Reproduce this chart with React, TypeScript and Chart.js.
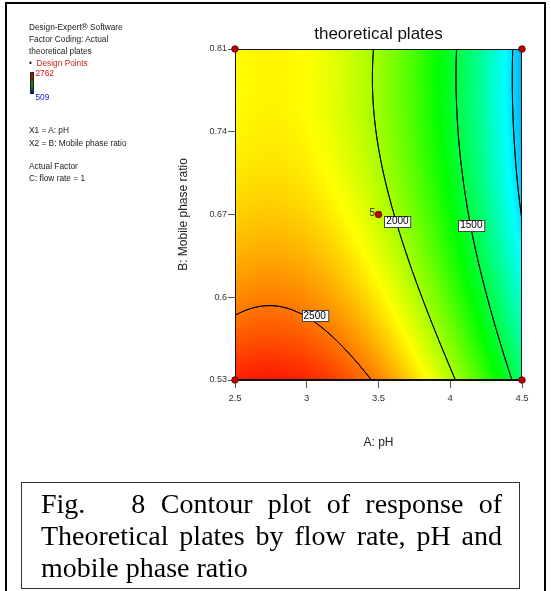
import React, { useEffect, useRef } from 'react';
import { Chart, registerables } from 'chart.js';

Chart.register(...registerables);

// ---- data ----
const phGrid = [2.5, 3, 3.5, 4, 4.5];
const ratioGrid = [0.53, 0.6, 0.67, 0.74, 0.81];
const xTicks = [2.5, 3, 3.5, 4, 4.5];
const yTicks = [0.53, 0.6, 0.67, 0.74, 0.81];
// theoretical plates at each pH grid node, one row per mobile phase ratio
const platesRatio053 = [2690, 2685, 2469, 2039, 1398];
const platesRatio060 = [2455, 2451, 2234, 1805, 1160];
const platesRatio067 = [2296, 2291, 2075, 1645, 992];
const platesRatio074 = [2210, 2206, 1989, 1560, 914];
const platesRatio081 = [2199, 2194, 1978, 1548, 905];
const contourLevels = [1000, 1500, 2000, 2500];
const labelLevels = [2500, 2000, 1500];
const labelPH = [3.055, 3.632, 4.147];
const labelRatio = [0.5843, 0.6645, 0.661];
const designPH = [2.5, 2.5, 4.5, 4.5, 3.5];
const designRatio = [0.53, 0.81, 0.81, 0.53, 0.67];
const designReplicates = ['', '', '', '', '5'];
const responseLow = 509;
const responseHigh = 2762;
const rampColors = [
  [0, 0, 255],
  [0, 255, 255],
  [0, 255, 0],
  [255, 255, 0],
  [255, 0, 0],
];

const platesRows = [platesRatio053, platesRatio060, platesRatio067, platesRatio074, platesRatio081];

function catmull(vals: number[], t: number): number {
  const n = vals.length;
  const get = (k: number) => {
    if (k < 0) return 3 * vals[0] - 3 * vals[1] + vals[2];
    if (k > n - 1) return 3 * vals[n - 1] - 3 * vals[n - 2] + vals[n - 3];
    return vals[k];
  };
  let i = Math.floor(t);
  if (i > n - 2) i = n - 2;
  if (i < 0) i = 0;
  const u = t - i;
  const p0 = get(i - 1), p1 = get(i), p2 = get(i + 1), p3 = get(i + 2);
  return 0.5 * (2 * p1 + (-p0 + p2) * u + (2 * p0 - 5 * p1 + 4 * p2 - p3) * u * u + (-p0 + 3 * p1 - 3 * p2 + p3) * u * u * u);
}

function colorFor(v: number, out: number[]) {
  let t = (v - responseLow) / (responseHigh - responseLow);
  t = Math.max(0, Math.min(1, t));
  const s = t * (rampColors.length - 1);
  const k = Math.min(Math.floor(s), rampColors.length - 2);
  const f = s - k;
  for (let c = 0; c < 3; c++) out[c] = Math.round(rampColors[k][c] * (1 - f) + rampColors[k + 1][c] * f);
}

const surfacePlugin = {
  id: 'surface',
  beforeDatasetsDraw(chart: any) {
    const { ctx, chartArea, scales } = chart;
    const xs = scales.x, ys = scales.y;
    const L = Math.round(chartArea.left), T = Math.round(chartArea.top);
    const W = Math.round(chartArea.right) - L, H = Math.round(chartArea.bottom) - T;
    const field = new Float32Array(W * H);
    const img = ctx.createImageData(W, H);
    const col = [0, 0, 0];
    const dx = phGrid[1] - phGrid[0], dy = ratioGrid[1] - ratioGrid[0];
    for (let i = 0; i < W; i++) {
      const xv = xs.getValueForPixel(L + i + 0.5);
      const tx = (xv - phGrid[0]) / dx;
      const colVals = platesRows.map((r) => catmull(r, tx));
      for (let j = 0; j < H; j++) {
        const yv = ys.getValueForPixel(T + j + 0.5);
        const ty = (yv - ratioGrid[0]) / dy;
        const v = catmull(colVals, ty);
        field[j * W + i] = v;
        colorFor(v, col);
        const k = (j * W + i) * 4;
        img.data[k] = col[0];
        img.data[k + 1] = col[1];
        img.data[k + 2] = col[2];
        img.data[k + 3] = 255;
      }
    }
    ctx.putImageData(img, L, T);

    ctx.save();
    ctx.beginPath();
    ctx.rect(L, T, W, H);
    ctx.clip();
    ctx.strokeStyle = '#000';
    ctx.lineWidth = 1;
    ctx.lineCap = 'round';
    for (const level of contourLevels) {
      ctx.beginPath();
      for (let j = 0; j < H - 1; j++) {
        for (let i = 0; i < W - 1; i++) {
          const a = field[j * W + i], b = field[j * W + i + 1];
          const c = field[(j + 1) * W + i + 1], d = field[(j + 1) * W + i];
          const pts: number[][] = [];
          if ((a - level) * (b - level) < 0) pts.push([i + (level - a) / (b - a), j]);
          if ((b - level) * (c - level) < 0) pts.push([i + 1, j + (level - b) / (c - b)]);
          if ((d - level) * (c - level) < 0) pts.push([i + (level - d) / (c - d), j + 1]);
          if ((a - level) * (d - level) < 0) pts.push([i, j + (level - a) / (d - a)]);
          for (let p = 0; p + 1 < pts.length; p += 2) {
            ctx.moveTo(L + 0.5 + pts[p][0], T + 0.5 + pts[p][1]);
            ctx.lineTo(L + 0.5 + pts[p + 1][0], T + 0.5 + pts[p + 1][1]);
          }
        }
      }
      ctx.stroke();
    }
    ctx.restore();

    // plot frame
    ctx.save();
    ctx.strokeStyle = '#111';
    ctx.lineWidth = 1;
    ctx.strokeRect(L + 0.5, T + 0.5, W - 1, H - 1);
    ctx.restore();

    // contour labels
    ctx.save();
    ctx.font = '10px "Liberation Sans", Arial, sans-serif';
    ctx.textAlign = 'center';
    ctx.textBaseline = 'middle';
    labelLevels.forEach((lv, k) => {
      const px = xs.getPixelForValue(labelPH[k]);
      const py = ys.getPixelForValue(labelRatio[k]);
      const text = String(lv);
      const w = ctx.measureText(text).width + 4;
      const h = 11;
      const x0 = Math.round(px - w / 2) + 0.5, y0 = Math.round(py - h / 2) + 0.5;
      ctx.fillStyle = '#fff';
      ctx.fillRect(x0, y0, w, h);
      ctx.strokeStyle = '#444';
      ctx.strokeRect(x0, y0, w, h);
      ctx.fillStyle = '#000';
      ctx.fillText(text, px, py + 0.5);
    });
    ctx.restore();
  },
  afterDatasetsDraw(chart: any) {
    const { ctx, scales } = chart;
    ctx.save();
    ctx.font = '10px "Liberation Sans", Arial, sans-serif';
    ctx.textAlign = 'right';
    ctx.textBaseline = 'middle';
    ctx.fillStyle = '#222';
    designReplicates.forEach((r, k) => {
      if (!r) return;
      const px = scales.x.getPixelForValue(designPH[k]);
      const py = scales.y.getPixelForValue(designRatio[k]);
      ctx.fillText(r, px - 3.5, py - 1);
    });
    ctx.restore();
  },
};

const sans = '"Liberation Sans", Arial, sans-serif';

function Note({ top, left, text, color }: { top: number; left: number; text: string; color?: string }) {
  return (
    <div
      style={{
        position: 'absolute',
        top,
        left,
        fontFamily: sans,
        fontSize: 8.3,
        lineHeight: '12px',
        color: color || '#1a1a1a',
        whiteSpace: 'nowrap',
      }}
    >
      {text}
    </div>
  );
}

export default function App() {
  const ref = useRef<HTMLCanvasElement>(null);

  useEffect(() => {
    const chart = new Chart(ref.current as HTMLCanvasElement, {
      type: 'scatter',
      data: {
        datasets: [
          {
            label: 'Design Points',
            data: designPH.map((x, i) => ({ x, y: designRatio[i] })),
            pointRadius: 3.3,
            pointBackgroundColor: '#c00000',
            pointBorderColor: '#500000',
            pointBorderWidth: 0.8,
            clip: false as any,
          },
        ],
      },
      plugins: [surfacePlugin],
      options: {
        responsive: false,
        animation: false,
        events: [],
        layout: { padding: { left: 170, right: 29, top: 0, bottom: 141 } },
        plugins: {
          legend: { display: false },
          tooltip: { enabled: false },
          title: {
            display: true,
            text: 'theoretical plates',
            fullSize: false,
            color: '#111',
            font: { family: sans, size: 17, weight: 'normal' },
            padding: { top: 23.8, bottom: 4.8 },
          },
        },
        scales: {
          x: {
            type: 'linear',
            min: 2.5,
            max: 4.5,
            afterBuildTicks: (s: any) => {
              s.ticks = xTicks.map((v) => ({ value: v }));
            },
            afterFit: (s: any) => {
              s.height = 70;
            },
            ticks: {
              color: '#333',
              font: { family: sans, size: 9.5 },
              padding: 4.5,
              maxRotation: 0,
              callback: (v: any) => String(+(+v).toFixed(2)),
            },
            grid: { drawOnChartArea: false, drawTicks: true, tickLength: 8, color: '#555' },
            border: { display: true, color: '#111' },
            title: {
              display: true,
              text: 'A: pH',
              color: '#222',
              font: { family: sans, size: 12 },
              padding: { top: 0, bottom: 0 },
            },
          },
          y: {
            type: 'linear',
            min: 0.53,
            max: 0.81,
            afterBuildTicks: (s: any) => {
              s.ticks = yTicks.map((v) => ({ value: v }));
            },
            afterFit: (s: any) => {
              s.width = 65;
            },
            ticks: {
              color: '#333',
              font: { family: sans, size: 9 },
              padding: 1,
              callback: (v: any) => String(+(+v).toFixed(2)),
            },
            grid: { drawOnChartArea: false, drawTicks: true, tickLength: 7, color: '#555' },
            border: { display: true, color: '#111' },
            title: {
              display: true,
              text: 'B: Mobile phase ratio',
              color: '#222',
              font: { family: sans, size: 12 },
              padding: { top: 6, bottom: 0 },
            },
          },
        },
      } as any,
    });
    return () => chart.destroy();
  }, []);

  const serif = '"Liberation Serif", "Times New Roman", serif';
  const captionLine: React.CSSProperties = {
    textAlign: 'justify',
    textAlignLast: 'justify' as any,
    whiteSpace: 'normal',
    height: 32,
    lineHeight: '32px',
  };

  return (
    <div
      style={{
        position: 'fixed',
        left: 0,
        top: 0,
        width: 551,
        height: 591,
        background: '#fff',
        overflow: 'hidden',
      }}
    >
      <canvas ref={ref} width={551} height={591} style={{ position: 'absolute', left: 0, top: 0 }} />

      {/* outer frame */}
      <div
        style={{
          position: 'absolute',
          left: 5,
          top: 2,
          width: 537,
          height: 640,
          borderLeft: '2px solid #000',
          borderRight: '2px solid #000',
          borderTop: '2px solid #000',
          pointerEvents: 'none',
        }}
      />

      <Note top={21.3} left={29} text="Design-Expert® Software" />
      <Note top={33.3} left={29} text="Factor Coding: Actual" />
      <Note top={45} left={29} text="theoretical plates" />
      <Note top={56.7} left={29} text="•" />
      <Note top={56.7} left={36.5} text="Design Points" color="#cc1f1f" />
      <div
        style={{
          position: 'absolute',
          left: 30,
          top: 71.5,
          width: 4,
          height: 22.5,
          boxSizing: 'border-box',
          border: '1px solid #222',
          background: 'linear-gradient(to bottom, #e00000 0%, #603000 30%, #00a000 60%, #0000e0 100%)',
        }}
      />
      <Note top={67.3} left={35.5} text="2762" color="#e01010" />
      <Note top={90.7} left={35.5} text="509" color="#2020e0" />
      <Note top={123.7} left={29} text="X1 = A: pH" />
      <Note top={136.7} left={29} text="X2 = B: Mobile phase ratio" />
      <Note top={159.7} left={29} text="Actual Factor" />
      <Note top={171.7} left={29} text="C: flow rate = 1" />

      {/* caption */}
      <div
        style={{
          position: 'absolute',
          left: 21,
          top: 482,
          width: 499,
          height: 107,
          boxSizing: 'border-box',
          border: '1px solid #333',
          padding: '4.5px 17px 0 19px',
          fontFamily: serif,
          fontSize: 28,
          color: '#000',
          overflow: 'hidden',
        }}
      >
        <div style={captionLine}>Fig.{'\u00a0\u00a0'} 8 Contour plot of response of</div>
        <div style={captionLine}>Theoretical plates by flow rate, pH and</div>
        <div style={{ lineHeight: '32px', whiteSpace: 'nowrap' }}>mobile phase ratio</div>
      </div>
    </div>
  );
}
